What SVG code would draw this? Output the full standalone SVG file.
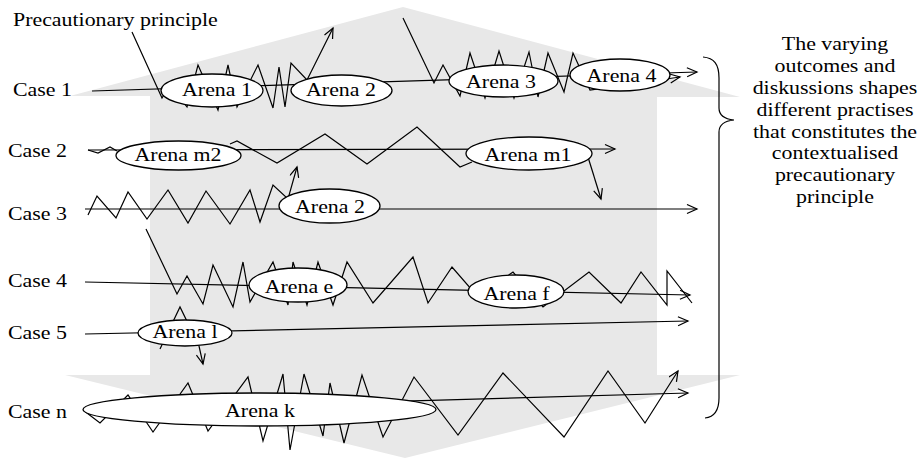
<svg xmlns="http://www.w3.org/2000/svg" width="922" height="462" viewBox="0 0 922 462">
<style>
.bg{fill:#e8e8e8;stroke:none}
.ln{fill:none;stroke:#000;stroke-width:1.2;stroke-linejoin:miter}
.nd{fill:#fff;stroke:#000;stroke-width:1.3}
.t{font-family:"Liberation Serif","Times New Roman",serif;font-size:19px;fill:#000}
</style>
<defs>
<marker id="ah" markerWidth="14" markerHeight="12" refX="11" refY="5" orient="auto" markerUnits="userSpaceOnUse">
<path d="M1,0.5 L11,5 L1,9.5" fill="none" stroke="#000" stroke-width="1.2"/>
</marker>
</defs>
<rect width="922" height="462" fill="#fff"/>
<polygon class="bg" points="403,7 740,97 657,97 657,375 740,375 405,458 65,375 150,375 150,96 70,96"/>

<g id="labels">
<text class="t" transform="translate(13,26) scale(1.152,1)">Precautionary principle</text>
<text class="t" transform="translate(13,96) scale(1.152,1)">Case 1</text>
<text class="t" transform="translate(8,157) scale(1.152,1)">Case 2</text>
<text class="t" transform="translate(8,220) scale(1.152,1)">Case 3</text>
<text class="t" transform="translate(8,287) scale(1.152,1)">Case 4</text>
<text class="t" transform="translate(8,339) scale(1.152,1)">Case 5</text>
<text class="t" transform="translate(8,418) scale(1.152,1)">Case n</text>
</g>

<g id="connectors">
<!-- case main lines -->
<line class="ln" x1="92" y1="91" x2="697" y2="72" marker-end="url(#ah)"/>
<line class="ln" x1="88" y1="150" x2="615" y2="149" marker-end="url(#ah)"/>
<polyline class="ln" points="88,150 98,153 110,147 117,151"/>
<line class="ln" x1="85" y1="209" x2="697" y2="209" marker-end="url(#ah)"/>
<line class="ln" x1="85" y1="282" x2="690" y2="295" marker-end="url(#ah)"/>
<line class="ln" x1="85" y1="334" x2="688" y2="321" marker-end="url(#ah)"/>
<line class="ln" x1="90" y1="410" x2="688" y2="393" marker-end="url(#ah)"/>
<!-- case 1 zigzags -->
<polyline class="ln" points="132,32 162,98 170,85 187,107 198,65 218,110 228,65 237,107 258,65 273,108 279,67 285,107 291,63 307,80 333,28" marker-end="url(#ah)"/>
<polyline class="ln" points="403,18 434,83 443,65 460,96 470,53 485,98 499,51 514,98 529,52 538,97 548,53 564,92 573,53 590,90 680,77" marker-end="url(#ah)"/>
<!-- case 2 zigzag -->
<polyline class="ln" points="230,144 237,141 277,163 325,134 367,164 417,127 460,167 472,162"/>
<line class="ln" x1="588" y1="157" x2="601" y2="199" marker-end="url(#ah)"/>
<!-- case 3 zigzag -->
<polyline class="ln" points="88,215 97,196 116,218 128,192 147,219 168,190 188,223 206,191 230,224 250,190 260,222 273,185 288,199 297,167" marker-end="url(#ah)"/>
<!-- case 4 zigzag -->
<polyline class="ln" points="146,229 177,294 187,276 203,304 213,265 233,307 243,262 250,302 273,262 288,305 293,262 307,305 318,262 333,305 347,262 373,303 413,257 428,303 452,267 478,297 513,272 543,307 589,272 621,303 641,272 667,305 667,271 692,303"/>
<!-- case 5 zigzag -->
<polyline class="ln" points="160,349 180,307 199,346 203,364" marker-end="url(#ah)"/>
<!-- case n zigzag -->
<polyline class="ln" points="83,410 100,423 128,395 153,432 188,383 208,431 248,377 263,441 283,374 290,450 304,374 323,436 330,383 344,443 362,375 383,437 414,377 458,435 503,373 564,437 608,371 645,423 678,371" marker-end="url(#ah)"/>
<!-- brace -->
<path class="ln" d="M703,57 C714,58 719,64 719,78 L719,108 C719,115 724,119 734,120 C724,121 719,125 719,132 L719,398 C719,410 714,417 705,418"/>
</g>

<g id="arena1"><ellipse class="nd" cx="212" cy="90.5" rx="51" ry="16.5"/><text class="t" text-anchor="middle" transform="translate(217,96) scale(1.152,1)">Arena 1</text></g>
<g id="arena2a"><ellipse class="nd" cx="341.5" cy="90.5" rx="50.5" ry="15.5"/><text class="t" text-anchor="middle" transform="translate(341,96) scale(1.152,1)">Arena 2</text></g>
<g id="arena3"><ellipse class="nd" cx="503.5" cy="81" rx="54.5" ry="16"/><text class="t" text-anchor="middle" transform="translate(501,88) scale(1.152,1)">Arena 3</text></g>
<g id="arena4"><ellipse class="nd" cx="620" cy="75" rx="50" ry="16"/><text class="t" text-anchor="middle" transform="translate(621.5,82) scale(1.152,1)">Arena 4</text></g>
<g id="arenam2"><ellipse class="nd" cx="178.5" cy="155.5" rx="62.5" ry="14.5"/><text class="t" text-anchor="middle" transform="translate(178,161) scale(1.152,1)">Arena m2</text></g>
<g id="arenam1"><ellipse class="nd" cx="529" cy="153.5" rx="63" ry="16.5"/><text class="t" text-anchor="middle" transform="translate(528,161) scale(1.152,1)">Arena m1</text></g>
<g id="arena2b"><ellipse class="nd" cx="329.5" cy="206" rx="50.5" ry="17"/><text class="t" text-anchor="middle" transform="translate(330,213) scale(1.152,1)">Arena 2</text></g>
<g id="arenae"><ellipse class="nd" cx="298" cy="285" rx="49" ry="17"/><text class="t" text-anchor="middle" transform="translate(299,293) scale(1.152,1)">Arena e</text></g>
<g id="arenaf"><ellipse class="nd" cx="516" cy="291.5" rx="48" ry="16.5"/><text class="t" text-anchor="middle" transform="translate(516.5,300) scale(1.152,1)">Arena f</text></g>
<g id="arenal"><ellipse class="nd" cx="185" cy="333" rx="47" ry="13"/><text class="t" text-anchor="middle" transform="translate(185,338) scale(1.152,1)">Arena l</text></g>
<g id="arenak"><ellipse class="nd" cx="259.5" cy="409.5" rx="176.5" ry="16.5"/><text class="t" text-anchor="middle" transform="translate(260,417) scale(1.152,1)">Arena k</text></g>

<g id="outcome" transform="translate(835,0) scale(1.152,1)">
<text class="t" text-anchor="middle" x="0" y="50.5">The varying</text>
<text class="t" text-anchor="middle" x="0" y="72.3">outcomes and</text>
<text class="t" text-anchor="middle" x="0" y="94.1">diskussions shapes</text>
<text class="t" text-anchor="middle" x="0" y="115.9">different practises</text>
<text class="t" text-anchor="middle" x="0" y="137.7">that constitutes the</text>
<text class="t" text-anchor="middle" x="0" y="159.5">contextualised</text>
<text class="t" text-anchor="middle" x="0" y="181.3">precautionary</text>
<text class="t" text-anchor="middle" x="0" y="203.1">principle</text>
</g>
</svg>
